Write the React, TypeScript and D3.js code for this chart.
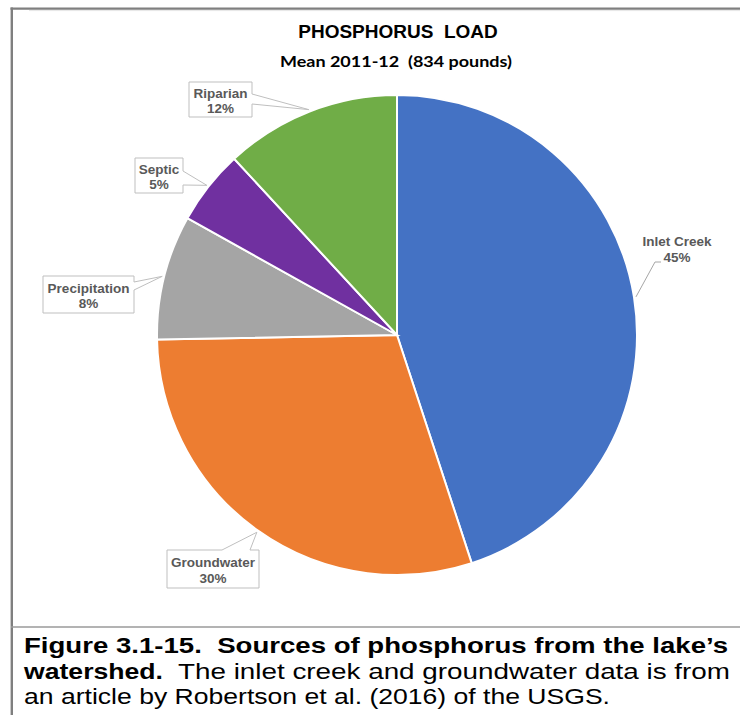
import React from "react";
import * as d3 from "d3";

// ---- data ----
const categories = ["Inlet Creek", "Groundwater", "Precipitation", "Septic", "Riparian"];
const loads = [375, 248, 70, 42, 99]; // pounds, mean 2011-12 (total 834)
const sliceColors = ["#4472C4", "#ED7D31", "#A5A5A5", "#7030A0", "#70AD47"];
const titleText = "PHOSPHORUS  LOAD";
const subtitleText = "Mean 2011-12  (834 pounds)";
const captionBold1 = "Figure 3.1-15.  Sources of phosphorus from the lake\u2019s";
const captionBold2 = "watershed.";
const captionNormal2 = "The inlet creek and groundwater data is from";
const captionNormal3 = "an article by Robertson et al. (2016) of the USGS.";

// ---- layout ----
const W = 740;
const H = 715;
const CX = 397;
const CY = 335;
const R = 240;

type Callout =
  | { kind: "right"; x0: number; y0: number; x1: number; y1: number; a: number; b: number }
  | { kind: "top"; x0: number; y0: number; x1: number; y1: number; a: number; b: number }
  | { kind: "leader"; tx: number; ty: number; elbowX: number; elbowY: number; endX: number };

const calloutLayout: Callout[] = [
  { kind: "leader", tx: 677, ty: 246, elbowX: 655, elbowY: 262, endX: 661 },
  { kind: "top", x0: 167, y0: 550, x1: 259, y1: 588, a: 222, b: 250 },
  { kind: "right", x0: 43, y0: 276, x1: 134, y1: 313, a: 282, b: 290 },
  { kind: "right", x0: 135, y0: 158, x1: 183, y1: 193, a: 171, b: 185 },
  { kind: "right", x0: 189, y0: 82, x1: 252, y1: 117, a: 94, b: 104 },
];

const labelFont = "'Liberation Sans', Arial, sans-serif";

export default function App() {
  const total = d3.sum(loads);
  const pct = d3.format(".0%");
  const pie = d3
    .pie<number>()
    .sort(null)
    .value((d) => d)
    .startAngle(0)
    .endAngle(2 * Math.PI);
  const arcs = pie(loads);
  const arc = d3.arc<d3.PieArcDatum<number>>().innerRadius(0).outerRadius(R);
  const tipArc = d3.arc<d3.PieArcDatum<number>>().innerRadius(R + 2).outerRadius(R + 2);

  return (
    <svg
      width={W}
      height={H}
      style={{ position: "absolute", left: 0, top: 0, background: "#fff" }}
    >
      <rect x={0} y={0} width={W} height={H} fill="#fff" />
      {/* frame */}
      <line x1={10.5} y1={8.6} x2={W} y2={8.6} stroke="#7f7f7f" strokeWidth={2.4} />
      <line x1={29} y1={10.6} x2={W} y2={10.6} stroke="#e6e6e6" strokeWidth={1} />
      <line x1={11.8} y1={7.4} x2={11.8} y2={H} stroke="#7f7f7f" strokeWidth={2.4} />
      <line x1={11} y1={627} x2={W} y2={627} stroke="#9a9a9a" strokeWidth={1.6} />

      {/* titles */}
      <text
        x={398}
        y={38}
        textAnchor="middle"
        fontFamily={labelFont}
        fontWeight="bold"
        fontSize={19}
        fill="#000"
        style={{ whiteSpace: "pre" }}
      >
        {titleText}
      </text>
      <text
        x={396}
        y={67}
        textAnchor="middle"
        fontFamily="Lato, 'Open Sans', sans-serif"
        fontWeight="bold"
        fontSize={16}
        fill="#000"
        textLength={232}
        lengthAdjust="spacingAndGlyphs"
        style={{ whiteSpace: "pre" }}
      >
        {subtitleText}
      </text>

      {/* pie */}
      <g transform={`translate(${CX},${CY})`}>
        {arcs.map((a, i) => (
          <path key={i} d={arc(a) || ""} fill={sliceColors[i]} stroke="#fff" strokeWidth={2} />
        ))}
      </g>

      {/* callouts */}
      {arcs.map((a, i) => {
        const c = calloutLayout[i];
        const [tx0, ty0] = tipArc.centroid(a);
        const tx = CX + tx0;
        const ty = CY + ty0;
        const name = categories[i];
        const p = pct(loads[i] / total);
        if (c.kind === "leader") {
          return (
            <g key={i}>
              <polyline
                points={`${tx},${ty} ${c.elbowX},${c.elbowY} ${c.endX},${c.elbowY}`}
                fill="none"
                stroke="#a6a6a6"
                strokeWidth={1}
              />
              <text
                x={c.tx}
                y={c.ty}
                textAnchor="middle"
                fontFamily={labelFont}
                fontWeight="bold"
                fontSize={13.5}
                fill="#595959"
              >
                {name}
              </text>
              <text
                x={c.tx}
                y={c.ty + 15.5}
                textAnchor="middle"
                fontFamily={labelFont}
                fontWeight="bold"
                fontSize={13.5}
                fill="#595959"
              >
                {p}
              </text>
            </g>
          );
        }
        let d = "";
        if (c.kind === "right") {
          d = `M${c.x0},${c.y0}L${c.x1},${c.y0}L${c.x1},${c.a}L${tx},${ty}L${c.x1},${c.b}L${c.x1},${c.y1}L${c.x0},${c.y1}Z`;
        } else {
          d = `M${c.x0},${c.y0}L${c.a},${c.y0}L${tx},${ty}L${c.b},${c.y0}L${c.x1},${c.y0}L${c.x1},${c.y1}L${c.x0},${c.y1}Z`;
        }
        const mx = (c.x0 + c.x1) / 2;
        const my = (c.y0 + c.y1) / 2;
        return (
          <g key={i}>
            <path d={d} fill="#fff" stroke="#bfbfbf" strokeWidth={1} />
            <text
              x={mx}
              y={my - 2}
              textAnchor="middle"
              fontFamily={labelFont}
              fontWeight="bold"
              fontSize={13.5}
              fill="#595959"
            >
              {name}
            </text>
            <text
              x={mx}
              y={my + 13.5}
              textAnchor="middle"
              fontFamily={labelFont}
              fontWeight="bold"
              fontSize={13.5}
              fill="#595959"
            >
              {p}
            </text>
          </g>
        );
      })}

      {/* caption */}
      <text
        x={24}
        y={653}
        fontFamily={labelFont}
        fontWeight="bold"
        fontSize={22}
        fill="#000"
        textLength={704}
        lengthAdjust="spacingAndGlyphs"
        style={{ whiteSpace: "pre" }}
      >
        {captionBold1}
      </text>
      <text
        x={24}
        y={679}
        fontFamily={labelFont}
        fontWeight="bold"
        fontSize={22}
        fill="#000"
        textLength={139}
        lengthAdjust="spacingAndGlyphs"
      >
        {captionBold2}
      </text>
      <text
        x={178}
        y={679}
        fontFamily={labelFont}
        fontSize={22}
        fill="#000"
        textLength={552}
        lengthAdjust="spacingAndGlyphs"
      >
        {captionNormal2}
      </text>
      <text
        x={24}
        y={704}
        fontFamily={labelFont}
        fontSize={22}
        fill="#000"
        textLength={586}
        lengthAdjust="spacingAndGlyphs"
      >
        {captionNormal3}
      </text>
    </svg>
  );
}
